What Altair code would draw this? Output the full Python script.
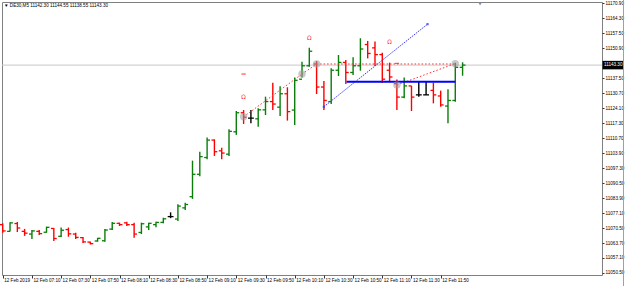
import altair as alt
import pandas as pd

# ---------------- data ----------------
bar_index = list(range(64))
opens = [11072.0, 11069.0, 11072.5, 11069.0, 11067.8, 11069.0, 11068.6, 11070.3, 11066.8, 11069.8,
         11067.8, 11066.2, 11064.2, 11064.7, 11064.8, 11070.0, 11072.6, 11072.8, 11072.0, 11068.5,
         11071.0, 11072.0, 11073.0, 11075.6, 11074.5, 11079.5, 11084.5, 11094.5, 11102.0, 11109.8,
         11105.0, 11103.5, 11113.5, 11122.0, 11119.6, 11119.3, 11123.3, 11127.0, 11124.5, 11130.5,
         11123.2, 11137.0, 11143.0, 11143.8, 11133.5, 11127.0, 11141.0, 11144.5, 11140.0, 11143.0,
         11152.5, 11151.0, 11148.0, 11141.0, 11135.0, 11129.0, 11134.0, 11130.0, 11130.0, 11132.0,
         11129.5, 11125.0, 11127.5, 11142.30]
highs = [11072.6, 11073.1, 11073.2, 11070.1, 11069.6, 11069.6, 11071.1, 11070.5, 11070.7, 11070.7,
         11068.4, 11066.5, 11064.4, 11066.1, 11070.1, 11073.2, 11072.9, 11073.3, 11072.8, 11072.9,
         11072.9, 11073.3, 11075.1, 11077.5, 11081.1, 11081.8, 11100.6, 11104.6, 11111.0, 11110.1,
         11106.4, 11114.6, 11122.8, 11123.2, 11123.2, 11124.0, 11129.2, 11135.4, 11133.9, 11133.4,
         11137.8, 11144.8, 11151.1, 11145.1, 11136.2, 11141.9, 11147.8, 11145.6, 11146.8, 11155.3,
         11154.1, 11153.8, 11148.8, 11144.4, 11136.9, 11137.8, 11134.0, 11135.9, 11135.9, 11135.4,
         11131.9, 11132.5, 11144.4, 11144.55]
lows = [11068.4, 11068.9, 11068.7, 11067.0, 11065.6, 11067.4, 11068.4, 11064.7, 11066.5, 11066.6,
        11065.6, 11063.8, 11063.2, 11064.4, 11064.4, 11069.6, 11071.4, 11071.4, 11066.2, 11067.8,
        11069.6, 11070.8, 11072.6, 11074.9, 11073.6, 11078.6, 11083.5, 11093.6, 11101.2, 11102.7,
        11101.2, 11102.7, 11112.1, 11117.0, 11117.3, 11115.8, 11121.0, 11123.2, 11120.6, 11118.5,
        11116.5, 11137.8, 11142.6, 11130.4, 11123.2, 11125.9, 11138.4, 11134.9, 11138.9, 11140.8,
        11146.3, 11142.9, 11135.4, 11135.9, 11123.2, 11128.5, 11122.8, 11129.2, 11129.9, 11126.2,
        11124.7, 11117.3, 11126.9, 11138.55]
closes = [11069.2, 11072.8, 11070.5, 11068.2, 11069.2, 11068.0, 11070.8, 11065.8, 11069.5, 11067.9,
          11066.3, 11064.3, 11063.5, 11065.9, 11069.6, 11072.6, 11072.0, 11072.0, 11067.8, 11072.4,
          11072.6, 11073.0, 11074.6, 11075.6, 11080.3, 11081.0, 11094.5, 11102.4, 11109.8, 11104.6,
          11104.0, 11113.7, 11122.0, 11120.0, 11119.6, 11123.3, 11127.0, 11125.9, 11130.5, 11122.5,
          11136.5, 11143.0, 11149.5, 11133.5, 11127.5, 11141.0, 11144.5, 11140.0, 11143.0, 11150.5,
          11148.5, 11148.0, 11137.0, 11138.0, 11129.0, 11134.0, 11129.0, 11130.0, 11130.0, 11130.0,
          11125.5, 11127.5, 11142.3, 11143.30]

x_tick_idx = list(range(0, 61, 4))
x_tick_labels = ["12 Feb 2019", "12 Feb 07:10", "12 Feb 07:30", "12 Feb 07:50", "12 Feb 08:10",
                 "12 Feb 08:30", "12 Feb 08:50", "12 Feb 09:10", "12 Feb 09:30", "12 Feb 09:50",
                 "12 Feb 10:10", "12 Feb 10:30", "12 Feb 10:50", "12 Feb 11:10", "12 Feb 11:30",
                 "12 Feb 11:50"]
y_tick_vals = [11170.9, 11164.3, 11157.5, 11150.9, 11137.5, 11130.7, 11124.1, 11117.3, 11110.7,
               11103.9, 11097.3, 11090.5, 11083.9, 11077.1, 11070.5, 11063.7, 11057.1, 11050.5]

current_price = closes[-1]
symbol = "DE30,M5"

# drawn objects (bar index / price)
red_dotted = {"x": [33, 41, 43, 54], "x2": [41, 43, 62, 62],
              "y": [11120.2, 11139.3, 11143.8, 11134.4], "y2": [11139.3, 11143.8, 11143.8, 11144.0]}
circles = {"x": [33, 41, 43, 54, 62], "y": [11120.2, 11139.3, 11143.8, 11134.4, 11143.9]}
blue_trend = {"x": [44.0], "x2": [58.2], "y": [11124.7], "y2": [11161.6]}
blue_level = {"x": [47.1], "x2": [62.0], "y": [11135.9]}
arrow_marks = {"x": [33, 42, 53], "y": [11129.2, 11155.5, 11153.7]}
dash_marks = {"x": [33, 54], "y": [11139.3, 11144.1]}

# ---------------- chart ----------------
FONT = "Liberation Sans"
xs = alt.Scale(domain=[-0.1, 82.1], nice=False, zero=False)
ys = alt.Scale(domain=[11049.5, 11171.5], nice=False, zero=False)

label_arr = "[" + ",".join("'" + s + "'" for s in x_tick_labels) + "]"
x_axis = alt.Axis(values=x_tick_idx, labelExpr=label_arr + "[round(datum.value/4)]",
                  labelAlign="left", labelBaseline="top", labelOffset=1, labelPadding=-0.5,
                  tickSize=3, tickColor="#333333", domain=False, grid=False,
                  labelFont=FONT, labelFontSize=4.6, labelColor="#000000",
                  labelOverlap=False, labelFlush=False, labelBound=False)
y_axis = alt.Axis(orient="right", values=y_tick_vals, format=".2f", grid=False,
                  tickSize=2, tickColor="#333333", domain=False, labelPadding=1,
                  labelFont=FONT, labelFontSize=4.6, labelColor="#000000",
                  labelOverlap=False, labelFlush=False, labelBound=False)


def X(f):
    return alt.X(f, scale=xs, title=None, axis=x_axis)


def Y(f):
    return alt.Y(f, scale=ys, title=None, axis=y_axis)


df = pd.DataFrame({"i": bar_index, "o": opens, "h": highs, "l": lows, "c": closes})

color_enc = alt.Color("dir:N", scale=alt.Scale(domain=["up", "down", "flat"],
                                               range=["#0a7d0a", "#ff0000", "#000000"]), legend=None)

base = alt.Chart(df).transform_calculate(
    dir="datum.c > datum.o ? 'up' : (datum.c < datum.o ? 'down' : 'flat')",
    ol="datum.i - 0.4", cr="datum.i + 0.4")

hl = base.mark_rule(strokeWidth=1.4).encode(x=X("i:Q"), y=Y("h:Q"), y2="l:Q", color=color_enc)
op = base.mark_rule(strokeWidth=1.3).encode(x=X("ol:Q"), x2="i:Q", y=Y("o:Q"), color=color_enc)
cl = base.mark_rule(strokeWidth=1.3).encode(x=X("i:Q"), x2="cr:Q", y=Y("c:Q"), color=color_enc)

price_line = alt.Chart(pd.DataFrame({"p": [current_price]})).mark_rule(
    color="#c8c8c8", strokeWidth=1).encode(y=Y("p:Q"))

rd = alt.Chart(pd.DataFrame(red_dotted)).mark_rule(
    color="#ff3030", strokeWidth=1, strokeDash=[1.5, 2]).encode(
    x=X("x:Q"), x2="x2:Q", y=Y("y:Q"), y2="y2:Q")

circ = alt.Chart(pd.DataFrame(circles)).mark_circle(
    size=55, color="#9a9a9a", opacity=0.55).encode(x=X("x:Q"), y=Y("y:Q"))

bt = alt.Chart(pd.DataFrame(blue_trend)).mark_rule(
    color="#3a3aff", strokeWidth=1, strokeDash=[1.5, 1]).encode(
    x=X("x:Q"), x2="x2:Q", y=Y("y:Q"), y2="y2:Q")
bt_end = alt.Chart(pd.DataFrame({"x": blue_trend["x"] + blue_trend["x2"],
                                 "y": blue_trend["y"] + blue_trend["y2"]})).mark_square(
    size=5, color="#3a3aff", opacity=0.8).encode(x=X("x:Q"), y=Y("y:Q"))

bl = alt.Chart(pd.DataFrame(blue_level)).mark_rule(
    color="#0000ff", strokeWidth=2).encode(x=X("x:Q"), x2="x2:Q", y=Y("y:Q"))

arr = alt.Chart(pd.DataFrame(arrow_marks)).mark_text(
    text="Ω", color="#ff3030", fontSize=6, font="DejaVu Sans").encode(x=X("x:Q"), y=Y("y:Q"))

dsh = alt.Chart(pd.DataFrame(dash_marks)).transform_calculate(
    a="datum.x - 0.3", b="datum.x + 0.3").mark_rule(color="#ff3030", strokeWidth=1).encode(
    x=X("a:Q"), x2="b:Q", y=Y("y:Q"))

hdr_text = "▼ " + symbol + "  " + " ".join(f"{v:.2f}" for v in
                                           [opens[-1], highs[-1], lows[-1], closes[-1]])
header = alt.Chart(pd.DataFrame({"t": [hdr_text]})).mark_text(
    align="left", baseline="middle", fontSize=4.6, font=FONT, color="#000000").encode(
    text="t:N", x=alt.value(2), y=alt.value(4))

shift_mark = alt.Chart(pd.DataFrame({"t": ["▼"]})).mark_text(
    fontSize=4, color="#888888", baseline="top", font="DejaVu Sans").encode(
    text="t:N", x=alt.value(478), y=alt.value(0))

cp_box = alt.Chart(pd.DataFrame({"a": [current_price + 1.9], "b": [current_price - 1.9]})).mark_rect(
    color="#000000").encode(x=alt.value(600.5), x2=alt.value(622), y=Y("a:Q"), y2="b:Q")
cp_text = alt.Chart(pd.DataFrame({"p": [current_price]})).transform_calculate(
    t="format(datum.p, '.2f')").mark_text(
    align="left", baseline="middle", fontSize=4.6, font=FONT, color="#ffffff").encode(
    text="t:N", x=alt.value(602), y=Y("p:Q"))

right_border = alt.Chart(pd.DataFrame({"v": [0]})).mark_rule(
    color="#a0a0a0", strokeWidth=1).encode(x=alt.value(621.5), y=alt.value(-2), y2=alt.value(284))

chart = alt.layer(
    price_line, hl, op, cl, rd, bt, bt_end, bl, circ, arr, dsh, header, shift_mark,
    cp_box, cp_text, right_border
).properties(
    width=600, height=273,
    autosize=alt.AutoSizeParams(type="none"),
    padding={"left": 2, "top": 2, "right": 23, "bottom": 11},
    background="#ffffff"
).configure_view(stroke="#808080", strokeWidth=1)

chart.save("out.html", embed_options={"renderer": "svg", "actions": False})
